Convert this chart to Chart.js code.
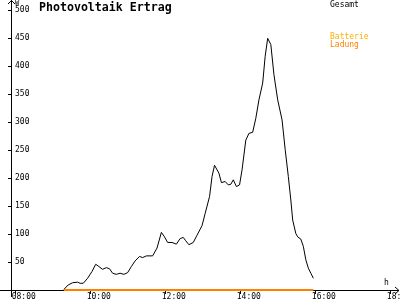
<!DOCTYPE html>
<html>
<head>
<meta charset="utf-8">
<script src="https://cdn.jsdelivr.net/npm/chart.js@4"></script>
<style>
  html, body { margin: 0; padding: 0; background: #fff; }
  #wrap { width: 400px; height: 300px; position: relative; }
</style>
</head>
<body>
<div id="wrap"><canvas id="c" width="400" height="300"></canvas></div>
<script>
const titleText = 'Photovoltaik Ertrag';
const times = ['09:17','09:24','09:31','09:39','09:43','09:48','09:55','10:02','10:08','10:13','10:19','10:25','10:30','10:35','10:41','10:47','10:53','10:59','11:05','11:11','11:18','11:23','11:29','11:39','11:46','11:53','11:58','12:03','12:10','12:17','12:23','12:28','12:32','12:37','12:44','12:50','12:58','13:03','13:10','13:14','13:18','13:25','13:29','13:35','13:40','13:44','13:48','13:53','13:58','14:02','14:08','14:13','14:19','14:24','14:29','14:35','14:39','14:43','14:48','14:53','14:59','15:06','15:11','15:16','15:20','15:23','15:28','15:31','15:36','15:40','15:44','15:48','15:52','15:56'];
const gesamt = [1,9,13,14,12,12,21,33,46,42,37,40,38,30,28,30,28,31,42,52,60,58,61,61,75,103,95,85,85,82,92,94,88,81,85,98,115,137,167,203,223,209,192,194,188,189,197,185,188,215,268,280,282,307,340,370,418,450,439,385,340,304,251,203,161,125,101,95,91,78,54,39,30,21];
const ladungTimes = ['09:17','15:56'];
const ladung = [0, 0];
const xTickHours = [8, 10, 12, 14, 16, 18];
const yTickValues = [50, 100, 150, 200, 250, 300, 350, 400, 450, 500];

function toHours(t) { const p = t.split(':'); return +p[0] + (+p[1]) / 60; }
function fmtHour(h) { return (h < 10 ? '0' : '') + h + ':00'; }

const MONO = "'DejaVu Sans Mono', 'Liberation Mono', monospace";

const decor = {
  id: 'decor',
  afterDraw(chart) {
    const ctx = chart.ctx;
    const a = chart.chartArea;
    ctx.save();
    ctx.strokeStyle = '#000';
    ctx.lineWidth = 1;
    ctx.beginPath();
    ctx.moveTo(0, a.bottom + 0.5); ctx.lineTo(a.left, a.bottom + 0.5);
    ctx.moveTo(a.right, a.bottom + 0.5); ctx.lineTo(399, a.bottom + 0.5);
    ctx.moveTo(a.left + 0.5, a.bottom); ctx.lineTo(a.left + 0.5, 297);
    ctx.moveTo(a.left + 0.5, a.top); ctx.lineTo(a.left + 0.5, 0);
    ctx.stroke();
    ctx.beginPath();
    ctx.moveTo(a.left - 3, 4); ctx.lineTo(a.left + 0.5, 0.5); ctx.lineTo(a.left + 4, 4);
    ctx.moveTo(395, a.bottom - 3); ctx.lineTo(399, a.bottom + 0.5); ctx.lineTo(395, a.bottom + 4);
    ctx.stroke();
    ctx.fillStyle = '#000';
    ctx.textBaseline = 'alphabetic';
    ctx.textAlign = 'left';
    ctx.font = 'bold 11.6px ' + MONO;
    ctx.fillText(titleText, 39, 11);
    ctx.font = '7px ' + MONO;
    ctx.fillText('W', 15, 5);
    ctx.font = '8px ' + MONO;
    ctx.fillText('h', 384, 285);
    ctx.fillText('Gesamt', 330, 7);
    ctx.fillStyle = '#ffb000';
    ctx.fillText('Batterie', 330, 39);
    ctx.fillStyle = '#ff8000';
    ctx.fillText('Ladung', 330, 47);
    ctx.restore();
  }
};

new Chart(document.getElementById('c'), {
  type: 'line',
  data: {
    datasets: [
      {
        label: 'Gesamt',
        data: times.map((t, i) => ({ x: toHours(t), y: gesamt[i] })),
        borderColor: '#000',
        borderWidth: 1,
        pointRadius: 0,
        tension: 0,
        fill: false,
        order: 2
      },
      {
        label: 'Batterie Ladung',
        data: ladungTimes.map((t, i) => ({ x: toHours(t), y: ladung[i] })),
        borderColor: '#ff8000',
        borderWidth: 2,
        pointRadius: 0,
        tension: 0,
        fill: false,
        clip: false,
        order: 1
      }
    ]
  },
  options: {
    responsive: false,
    animation: false,
    devicePixelRatio: 1,
    layout: { padding: { top: 2, right: 2, left: 0, bottom: 0 } },
    plugins: { legend: { display: false }, title: { display: false }, tooltip: { enabled: false } },
    scales: {
      x: {
        type: 'linear',
        min: 7.875,
        max: 18.19,
        afterBuildTicks(s) { s.ticks = xTickHours.map(v => ({ value: v })); },
        afterFit(s) { s.height = 10; s.paddingLeft = 0; s.paddingRight = 0; },
        grid: { drawOnChartArea: false, drawTicks: true, tickLength: 4, color: '#000' },
        border: { display: true, color: '#000', width: 1 },
        ticks: {
          callback: v => fmtHour(v),
          font: { family: MONO, size: 8 },
          color: '#000',
          align: 'start',
          labelOffset: -4,
          padding: -2,
          maxRotation: 0,
          autoSkip: false
        }
      },
      y: {
        min: 0,
        max: 515,
        afterBuildTicks(s) { s.ticks = yTickValues.map(v => ({ value: v })); },
        afterFit(s) { s.width = 11; s.paddingTop = 0; s.paddingBottom = 0; },
        grid: { drawOnChartArea: false, drawTicks: true, tickLength: 3, color: '#000' },
        border: { display: true, color: '#000', width: 1 },
        ticks: {
          mirror: true,
          padding: 4,
          font: { family: MONO, size: 8 },
          color: '#000',
          autoSkip: false
        }
      }
    }
  },
  plugins: [decor]
});
</script>
</body>
</html>
